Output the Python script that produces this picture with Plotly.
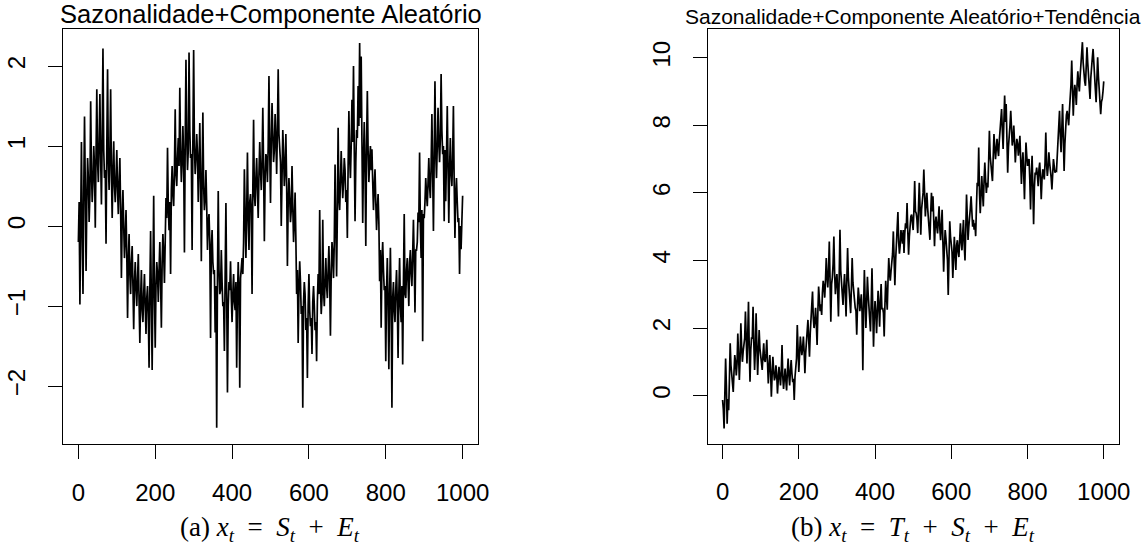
import plotly.graph_objects as go

# time index: extremes read at every 4th step, band values in between
t_peak = list(range(0, 1001, 4))
t_mid = list(range(2, 1000, 4))

# (a) Sazonalidade + Componente Aleatório : spikes / extremes
sa_peak = [
    -0.20, -0.98, 1.05, -0.85, 1.37, -0.56, 0.85, 0.05, 1.56, 0.30,
    1.00, -0.02, 1.71, 0.55, 1.65, 0.27, 2.22, 0.60, -0.22, 1.96,
    0.45, 1.71, 0.10, 1.06, 0.30, 0.95, 0.15, 0.85, -0.65, 0.45,
    -0.40, 0.20, -1.15, -0.10, -0.85, -0.25, -1.29, -0.45, -1.00, -0.35,
    -1.46, -0.55, -1.20, -0.60, -1.35, -0.75, -1.77, -0.06, -1.80, 0.38,
    -1.52, -0.45, -0.95, -0.20, -1.27, -0.10, -0.71, 0.35, 0.98, -0.05,
    -0.60, 0.75, 0.25, 1.46, 0.50, 1.10, 1.73, 0.55, 1.25, -0.33,
    2.08, 0.70, 2.17, 0.85, -0.30, 2.20, 0.65, 1.15, 0.30, 1.29,
    -0.44, 1.42, 0.20, 0.70, -0.30, 0.15, -1.40, -0.05, -0.60, -1.33,
    -2.52, 0.44, -0.85, -0.30, -1.00, -1.56, 0.29, -2.08, -0.70, -0.44,
    -1.20, -0.60, -1.05, -1.77, -0.45, -2.02, -0.50, -0.60, 0.71, -0.40,
    0.92, -0.30, 0.40, -0.85, 1.33, 0.25, 0.85, 0.10, 1.05, 0.45,
    1.48, -0.19, 0.90, 0.55, 1.875, 0.29, 1.54, 0.80, 1.40, 0.65,
    1.96, 0.85, 0.00, 1.20, 0.50, 1.15, -0.50, 0.60, 0.05, 0.75,
    -0.20, 0.42, -0.85, -1.46, -0.44, -1.10, -2.27, -0.70, -1.30, -1.90,
    -0.60, -1.25, -1.60, -0.75, -1.30, -1.69, -0.60, 0.20, -1.10, 0.08,
    -1.00, -0.40, -0.90, -0.25, -1.37, -0.20, -0.65, 0.77, -0.63, 1.23,
    0.20, 0.94, 0.35, 0.85, 0.30, -0.15, 1.44, 0.60, 1.58, 2.00,
    0.06, 1.20, 1.75, 2.29, 2.12, 0.04, 1.30, -0.25, 1.69, 0.55,
    1.00, 0.96, 0.20, 0.71, -0.05, 0.40, -0.69, -1.27, -0.20, -0.80,
    -1.69, -0.40, -1.79, -0.27, -2.27, -0.70, -1.20, -0.55, -1.65, -0.40,
    -1.20, -1.73, 0.15, -0.90, -0.40, -1.00, -0.30, -0.75, 0.08, -1.08,
    -0.30, 0.17, 0.92, -0.40, -1.44, 0.10, 0.60, 0.25, 0.85, 0.35,
    1.40, -0.06, 1.81, 0.60, 1.48, 0.80, 1.90, 0.90, 0.06, 0.31,
    1.50, 0.04, 1.10, 0.50, 1.50, -0.15, 0.60, 0.05, -0.60, -0.29,
    0.38,
]
# (a) values inside the dense band
sa_mid = [
    0.30, 0.20, -0.10, 0.40, 0.50, 0.30, 0.60, 0.40, 0.70, 0.55,
    0.75, 0.90, 0.80, 1.05, 0.85, 1.10, 0.95, 0.70, 1.00, 0.80,
    0.90, 0.65, 0.70, 0.50, 0.60, 0.45, 0.55, 0.20, 0.10, 0.00,
    -0.15, -0.35, -0.45, -0.60, -0.45, -0.75, -0.70, -0.80, -0.65, -0.95,
    -0.90, -1.05, -0.85, -1.00, -0.90, -1.10, -0.80, -0.95, -0.70, -0.85,
    -0.75, -0.60, -0.55, -0.70, -0.45, -0.35, -0.20, 0.10, 0.25, 0.30,
    0.45, 0.40, 0.70, 0.65, 0.85, 0.75, 0.95, 0.80, 0.85, 1.00,
    1.10, 0.95, 1.20, 0.90, 1.05, 1.00, 0.85, 0.90, 0.75, 0.55,
    0.60, 0.50, 0.35, 0.25, 0.05, -0.20, -0.30, -0.45, -0.55, -0.75,
    -0.65, -0.55, -0.80, -0.70, -0.95, -0.60, -0.85, -1.00, -0.80, -0.90,
    -0.85, -0.95, -0.70, -0.90, -0.80, -0.65, -0.40, -0.20, -0.05, 0.15,
    0.10, 0.30, 0.20, 0.45, 0.40, 0.60, 0.45, 0.65, 0.70, 0.80,
    0.75, 0.60, 0.85, 1.00, 0.95, 1.05, 1.15, 0.95, 1.10, 1.20,
    1.15, 0.80, 0.75, 0.90, 0.70, 0.55, 0.30, 0.35, 0.20, 0.25,
    0.05, -0.15, -0.55, -0.80, -0.70, -1.00, -0.95, -0.85, -1.15, -1.00,
    -1.05, -1.15, -0.95, -1.00, -1.20, -0.95, -0.85, -0.75, -0.90, -0.80,
    -0.70, -0.75, -0.55, -0.70, -0.60, -0.35, -0.20, 0.05, 0.15, 0.35,
    0.55, 0.60, 0.55, 0.70, 0.45, 0.75, 0.85, 1.00, 1.05, 0.95,
    0.80, 1.10, 1.25, 1.35, 1.05, 0.85, 0.70, 1.00, 0.95, 0.80,
    0.70, 0.55, 0.50, 0.30, 0.20, 0.05, -0.30, -0.45, -0.55, -0.75,
    -0.80, -0.95, -0.85, -1.00, -0.90, -1.05, -0.80, -0.95, -0.85, -1.00,
    -0.75, -0.70, -0.85, -0.55, -0.70, -0.45, -0.60, -0.35, -0.45, -0.30,
    -0.20, 0.05, 0.00, 0.20, 0.15, 0.30, 0.40, 0.55, 0.50, 0.75,
    0.70, 0.85, 0.90, 1.00, 1.05, 1.10, 1.20, 1.00, 0.95, 0.85,
    0.75, 0.70, 0.65, 0.85, 0.55, 0.40, 0.30, 0.10, 0.00, 0.05,
]

# (b) Sazonalidade + Componente Aleatório + Tendência : spikes / extremes
sb_peak = [
    -0.13, -0.97, 1.10, -0.83, -0.43, 1.55, 0.60, 0.11, 1.20, 0.60,
    1.84, 0.46, 2.14, 1.00, 1.60, 2.49, 0.95, 2.78, 0.41, 1.70,
    2.63, 0.76, 2.44, 0.61, 1.94, 1.20, 0.76, 1.55, 1.00, 1.65,
    0.36, 1.20, -0.03, 1.15, 0.45, 0.90, 0.06, 0.85, 0.30, 1.50,
    0.20, 0.80, 0.15, 1.10, 0.30, 1.05, 0.40, -0.13, 0.90, 2.09,
    0.70, 1.75, 1.20, 1.75, 0.66, 1.60, 2.24, 1.15, 2.20, 3.08,
    2.00, 2.60, 1.50, 3.23, 2.50, 2.39, 3.40, 2.90, 4.07, 3.20,
    4.56, 2.19, 3.50, 4.71, 3.00, 3.60, 2.34, 4.91, 3.30, 2.68,
    3.60, 2.34, 4.37, 3.00, 2.44, 4.07, 3.00, 2.60, 1.80, 3.20,
    2.50, 3.00, 0.75, 3.72, 2.00, 3.52, 2.60, 1.90, 3.77, 1.45,
    2.80, 1.85, 3.10, 2.04, 3.30, 2.60, 1.75, 3.40, 2.54, 4.07,
    3.40, 3.90, 4.86, 3.27, 4.40, 5.43, 4.20, 4.90, 4.50, 4.22,
    5.10, 5.70, 4.17, 5.20, 5.36, 4.90, 6.35, 5.40, 4.81, 6.30,
    4.76, 5.80, 6.69, 5.30, 6.00, 5.20, 4.61, 6.00, 5.90, 4.42,
    5.30, 4.80, 5.60, 4.60, 5.50, 3.67, 4.90, 4.30, 2.98, 5.16,
    4.40, 3.48, 4.70, 3.72, 4.60, 4.10, 5.10, 4.30, 5.20, 4.00,
    5.95, 4.61, 5.20, 5.90, 5.00, 4.91, 4.72, 6.30, 7.34, 5.40,
    6.50, 5.60, 6.90, 6.00, 6.16, 7.84, 6.80, 6.35, 7.74, 7.00,
    7.60, 7.09, 7.80, 8.48, 7.30, 8.88, 8.63, 6.60, 7.90, 8.43,
    7.40, 7.99, 6.90, 7.60, 7.10, 7.69, 6.26, 7.20, 5.81, 7.49,
    6.80, 7.00, 5.51, 7.10, 5.07, 6.60, 6.75, 6.20, 6.90, 5.81,
    6.70, 6.40, 7.79, 6.50, 7.20, 6.70, 6.10, 7.00, 6.60, 6.64,
    7.60, 8.43, 7.20, 8.63, 6.65, 8.20, 8.43, 8.00, 8.80, 9.92,
    8.28, 9.20, 8.60, 9.60, 9.00, 9.80, 10.46, 9.50, 9.17, 10.31,
    9.50, 8.78, 9.90, 10.26, 9.30, 8.68, 10.01, 9.10, 8.33, 8.78,
    9.30,
]
# (b) values inside the dense band
sb_mid = [
    -0.40, 0.10, 0.30, -0.10, 0.50, 0.90, 0.55, 0.70, 1.00, 0.95,
    1.20, 1.10, 1.45, 1.30, 1.70, 1.55, 1.75, 1.40, 1.35, 1.70,
    1.55, 1.35, 1.50, 1.25, 1.40, 1.10, 1.20, 1.05, 1.25, 0.95,
    0.85, 0.70, 0.60, 0.75, 0.55, 0.65, 0.45, 0.60, 0.70, 0.55,
    0.50, 0.45, 0.70, 0.60, 0.75, 0.65, 0.50, 0.55, 1.10, 1.35,
    1.20, 1.45, 1.40, 1.30, 1.25, 1.70, 1.65, 1.85, 2.40, 2.30,
    2.20, 2.10, 2.45, 2.85, 2.70, 3.05, 3.20, 3.40, 3.55, 3.70,
    3.40, 3.30, 3.90, 3.60, 3.40, 3.10, 3.55, 3.70, 3.15, 3.20,
    3.05, 3.40, 3.50, 2.90, 3.20, 3.35, 2.85, 2.50, 2.65, 2.90,
    2.75, 2.45, 2.60, 2.85, 2.70, 3.00, 2.40, 2.75, 2.60, 2.30,
    2.45, 2.50, 2.65, 2.80, 2.55, 2.45, 2.70, 2.95, 3.40, 3.60,
    3.70, 4.20, 4.05, 4.00, 4.75, 4.55, 4.45, 4.70, 4.90, 4.80,
    4.95, 4.85, 4.70, 5.30, 5.15, 5.50, 5.45, 5.20, 5.55, 5.60,
    5.50, 6.00, 5.85, 5.70, 5.55, 5.05, 5.40, 5.45, 5.20, 5.10,
    5.00, 5.20, 4.95, 5.05, 4.55, 4.40, 4.65, 4.00, 4.35, 4.70,
    4.25, 4.30, 4.20, 4.45, 4.25, 4.60, 4.55, 4.80, 4.45, 4.90,
    5.30, 5.00, 5.55, 5.40, 5.20, 5.10, 5.60, 6.20, 6.00, 5.95,
    6.00, 6.35, 6.40, 6.30, 6.90, 7.10, 6.70, 7.05, 7.35, 7.30,
    7.30, 7.55, 8.00, 7.85, 8.10, 8.10, 7.60, 7.35, 8.00, 7.70,
    7.60, 7.50, 7.30, 7.45, 7.35, 7.00, 6.85, 6.60, 6.75, 7.10,
    6.95, 6.40, 6.50, 6.20, 6.15, 6.55, 6.50, 6.70, 6.45, 6.40,
    6.55, 6.90, 6.85, 6.75, 6.90, 6.45, 6.60, 6.80, 6.65, 7.10,
    7.80, 7.70, 7.90, 7.60, 7.45, 8.30, 8.20, 8.45, 9.20, 9.00,
    8.90, 9.00, 9.20, 9.25, 9.45, 9.90, 9.85, 9.30, 9.70, 9.85,
    9.20, 9.40, 10.00, 9.70, 9.05, 9.35, 9.45, 8.80, 8.70, 9.00,
]

x_ticks = [0, 200, 400, 600, 800, 1000]
ya_ticks = [-2, -1, 0, 1, 2]
ya_text = ["\u22122", "\u22121", "0", "1", "2"]
yb_ticks = [0, 2, 4, 6, 8, 10]

title_a = "Sazonalidade+Componente Aleatório"
title_b = "Sazonalidade+Componente Aleatório+Tendência"
sp = "\u2002"
cap_a = ("(a) <i>x</i><sub><i>t</i></sub>" + sp + "=" + sp + "<i>S</i><sub><i>t</i></sub>"
         + sp + "+" + sp + "<i>E</i><sub><i>t</i></sub>")
cap_b = ("(b) <i>x</i><sub><i>t</i></sub>" + sp + "=" + sp + "<i>T</i><sub><i>t</i></sub>" + sp + "+" + sp
         + "<i>S</i><sub><i>t</i></sub>" + sp + "+" + sp + "<i>E</i><sub><i>t</i></sub>")


def merge(tp, vp, tm, vm):
    pts = sorted(list(zip(tp, vp)) + list(zip(tm, vm)))
    return [p[0] for p in pts], [p[1] for p in pts]


ta, ya = merge(t_peak, sa_peak, t_mid, sa_mid)
tb, yb = merge(t_peak, sb_peak, t_mid, sb_mid)

W, H = 1147, 549
SANS = "Liberation Sans, Arial, Helvetica, sans-serif"
SERIF = "Liberation Serif, Times New Roman, serif"

fig = go.Figure()
fig.add_trace(go.Scatter(x=ta, y=ya, mode="lines", line=dict(color="black", width=1.7),
                         xaxis="x", yaxis="y", hoverinfo="skip"))
fig.add_trace(go.Scatter(x=tb, y=yb, mode="lines", line=dict(color="black", width=1.7),
                         xaxis="x2", yaxis="y2", hoverinfo="skip"))

common = dict(showline=True, mirror=True, linecolor="black", linewidth=1,
              ticks="outside", ticklen=14, tickwidth=1, tickcolor="black",
              showgrid=False, zeroline=False, automargin=False,
              tickfont=dict(family=SANS, size=24, color="black"))

fig.update_layout(
    width=W, height=H, autosize=False, showlegend=False,
    margin=dict(l=0, r=0, t=0, b=0),
    paper_bgcolor="white", plot_bgcolor="white",
    xaxis=dict(domain=[63 / W, 478 / W], range=[-40, 1040], anchor="y",
               tickvals=x_ticks, ticklabelstandoff=13, **common),
    yaxis=dict(domain=[1 - 443.7 / H, 1 - 28.5 / H], range=[-2.72, 2.47], anchor="x",
               tickvals=ya_ticks, ticktext=ya_text, tickangle=-90, ticklabelstandoff=13, **common),
    xaxis2=dict(domain=[707.7 / W, 1119 / W], range=[-39, 1040], anchor="y2",
                tickvals=x_ticks, ticklabelstandoff=13, **common),
    yaxis2=dict(domain=[1 - 443.6 / H, 1 - 29 / H], range=[-1.42, 10.85], anchor="x2",
                tickvals=yb_ticks, tickangle=-90, ticklabelstandoff=13, **common),
    annotations=[
        dict(text=title_a, x=270.5 / W, y=1 - 13.6 / H, xref="paper", yref="paper",
             xanchor="center", yanchor="middle", showarrow=False,
             font=dict(family=SANS, size=25.5, color="black")),
        dict(text=title_b, x=913.4 / W, y=1 - 16.2 / H, xref="paper", yref="paper",
             xanchor="center", yanchor="middle", showarrow=False,
             font=dict(family=SANS, size=21, color="black")),
        dict(text=cap_a, x=270 / W, y=1 - 528.7 / H, xref="paper", yref="paper",
             xanchor="center", yanchor="middle", showarrow=False,
             font=dict(family=SERIF, size=27, color="black")),
        dict(text=cap_b, x=913 / W, y=1 - 528.7 / H, xref="paper", yref="paper",
             xanchor="center", yanchor="middle", showarrow=False,
             font=dict(family=SERIF, size=27, color="black")),
    ],
)

fig.write_html(
    "out.html",
    config={"displayModeBar": False, "staticPlot": True},
    post_script="document.body.style.margin='0';document.body.style.padding='0';"
                "document.body.style.overflow='hidden';",
)
